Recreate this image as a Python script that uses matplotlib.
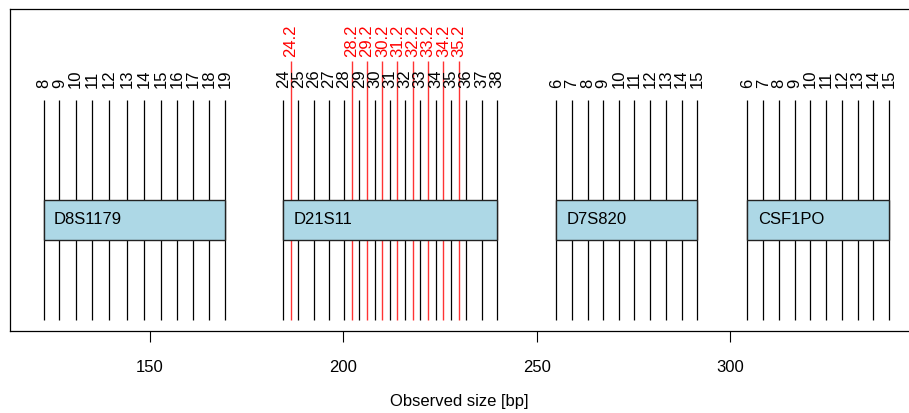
import matplotlib
matplotlib.use("Agg")
import matplotlib.pyplot as plt
from matplotlib.patches import Rectangle

plt.rcParams['font.family'] = ['Liberation Sans', 'DejaVu Sans']

# marker names and their allele ladders (allele, observed size in bp)
markers = ["D8S1179", "D21S11", "D7S820", "CSF1PO"]

d8_alleles = ["8", "9", "10", "11", "12", "13", "14", "15", "16", "17", "18", "19"]
d8_sizes = [122.5, 126.6, 130.8, 135.0, 139.4, 144.0, 148.5, 152.8, 157.1, 161.2, 165.3, 169.5]

d21_alleles = ["24", "25", "26", "27", "28", "29", "30", "31", "32", "33", "34", "35", "36", "37", "38"]
d21_sizes = [184.5, 188.4, 192.3, 196.3, 200.2, 204.1, 208.1, 212.0, 215.9, 219.9, 223.9, 227.8, 231.8, 235.8, 239.8]
d21_var_alleles = ["24.2", "28.2", "29.2", "30.2", "31.2", "32.2", "33.2", "34.2", "35.2"]
d21_var_sizes = [186.4, 202.2, 206.1, 210.1, 214.0, 217.9, 221.9, 225.9, 229.8]

d7_alleles = ["6", "7", "8", "9", "10", "11", "12", "13", "14", "15"]
d7_sizes = [255.1, 259.1, 263.2, 267.2, 271.3, 275.3, 279.4, 283.4, 287.5, 291.6]

csf_alleles = ["6", "7", "8", "9", "10", "11", "12", "13", "14", "15"]
csf_sizes = [304.5, 308.6, 312.7, 316.7, 320.8, 324.9, 329.0, 333.0, 337.1, 341.1]

ladders = [(d8_alleles, d8_sizes), (d21_alleles, d21_sizes),
           (d7_alleles, d7_sizes), (csf_alleles, csf_sizes)]
variants = {"D21S11": (d21_var_alleles, d21_var_sizes)}

fig = plt.figure(figsize=(9.09, 4.14), dpi=100)
ax = fig.add_axes([10 / 909, (414 - 332) / 414, 899 / 909, 322 / 414])

line_lo, line_hi = 0.034, 0.717
red_hi = 0.839
box_lo, box_hi = 0.283, 0.407
fs = 12

for name, (alleles, sizes) in zip(markers, ladders):
    ax.vlines(sizes, line_lo, line_hi, colors="black", lw=0.9, zorder=1)
    for a, s in zip(alleles, sizes):
        ax.text(s, 0.758, a, rotation=90, ha="center", va="bottom",
                fontsize=fs, color="black")
    if name in variants:
        va_alleles, va_sizes = variants[name]
        ax.vlines(va_sizes, line_lo, red_hi, colors="#ff3333", lw=1.0, zorder=1)
        for a, s in zip(va_alleles, va_sizes):
            ax.text(s, 0.854, a, rotation=90, ha="center", va="bottom",
                    fontsize=fs, color="red")
    ax.add_patch(Rectangle((sizes[0], box_lo), sizes[-1] - sizes[0], box_hi - box_lo,
                           facecolor="lightblue", edgecolor="#222222", lw=1, zorder=2))
    ax.text(sizes[0] + 2.7, (box_lo + box_hi) / 2 + 0.005, name, ha="left", va="center",
            fontsize=fs, zorder=3)

ax.set_xlim(113.8, 346.3)
ax.set_ylim(0, 1)
ax.set_yticks([])
ax.set_xticks([150, 200, 250, 300])
ax.tick_params(axis="x", length=8, width=0.8, labelsize=fs, pad=12)
ax.set_xlabel("Observed size [bp]", fontsize=fs, labelpad=14)
ax.spines["right"].set_visible(False)
for sp in ["left", "top", "bottom"]:
    ax.spines[sp].set_linewidth(0.9)

fig.savefig("out.png", dpi=100)
